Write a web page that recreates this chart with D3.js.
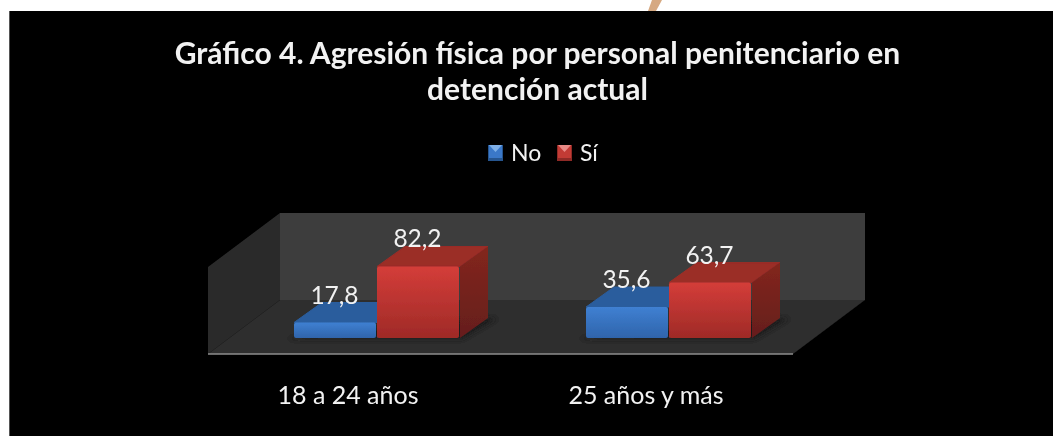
<!DOCTYPE html>
<html>
<head>
<meta charset="utf-8">
<script src="https://cdn.jsdelivr.net/npm/d3@7"></script>
<style>
  html, body { margin: 0; padding: 0; background: #fff; }
  svg { display: block; }
  text { font-family: Lato, "Open Sans", sans-serif; fill: #f2f2f2; }
</style>
</head>
<body>
<script>
var w = 1053;
var h = 436;

var categories = ["18 a 24 años", "25 años y más"];
var seriesNames = ["No", "Sí"];
var noValues = [17.8, 35.6];
var siValues = [82.2, 63.7];
var titleLines = ["Gráfico 4. Agresión física por personal penitenciario en", "detención actual"];

var depthX = 28;
var depthY = -20;
var wallX = 72;
var wallY = -54;

var svg = d3.select("body").append("svg")
    .attr("width", w)
    .attr("height", h);

var defs = svg.append("defs");

function vGrad(id, top, bottom) {
  var g = defs.append("linearGradient").attr("id", id)
      .attr("x1", 0).attr("y1", 0).attr("x2", 0).attr("y2", 1);
  g.append("stop").attr("offset", "0%").attr("stop-color", top);
  g.append("stop").attr("offset", "100%").attr("stop-color", bottom);
}
vGrad("blueFront", "#3f80d2", "#2f64ab");
vGrad("redFront", "#d43d39", "#9f2a27");
vGrad("redSide", "#83261f", "#651e1a");

defs.append("filter").attr("id", "soft")
    .append("feGaussianBlur").attr("stdDeviation", 0.7);
defs.append("filter").attr("id", "shadow")
    .attr("x", "-20%").attr("y", "-50%").attr("width", "140%").attr("height", "200%")
    .append("feGaussianBlur").attr("stdDeviation", 2);

// background panel
svg.append("rect").attr("x", 9).attr("y", 11).attr("width", w - 9).attr("height", h - 11).attr("fill", "#000");
svg.append("rect").attr("x", 9).attr("y", 11).attr("width", 1).attr("height", h - 11).attr("fill", "#555");
svg.append("path").attr("d", "M652,0L662,0L656,11L648,11Z").attr("fill", "#d6a982");

var xFront = d3.scaleBand().domain(categories).range([208, 793]);
var xLabels = d3.scaleBand().domain(categories).range([199, 795]);
var xBars = d3.scaleBand().domain(categories).range([231, 815]);
var xSeries = d3.scaleBand().domain(seriesNames).range([63, 229]);
var y = d3.scaleLinear().domain([0, 100]).range([338, 251]);

var floorY = 354;
var left = xFront.range()[0];
var right = xFront.range()[1];
var wallTop = 213;
var g = svg.append("g").attr("filter", "url(#soft)");

// walls and floor
g.append("path").attr("fill", "#3d3d3d")
    .attr("d", d3.line()([[left + wallX, wallTop], [right + wallX, wallTop], [right + wallX, floorY + wallY], [left + wallX, floorY + wallY]]) + "Z");
g.append("path").attr("fill", "#2a2a2a")
    .attr("d", d3.line()([[left + wallX, wallTop], [left + wallX, floorY + wallY], [left, floorY], [left, wallTop - wallY]]) + "Z");
g.append("path").attr("fill", "#2d2d2d")
    .attr("d", d3.line()([[left + wallX, floorY + wallY], [right + wallX, floorY + wallY], [right, floorY], [left, floorY]]) + "Z");
g.append("line").attr("stroke", "#8e8e8e").attr("stroke-width", 1.5)
    .attr("x1", left).attr("x2", right).attr("y1", floorY).attr("y2", floorY);

var rows = categories.map(function(c, i) {
  return [
    { cat: c, name: seriesNames[0], value: noValues[i], front: "url(#blueFront)", top: "#2b5d9d", side: "#234d83" },
    { cat: c, name: seriesNames[1], value: siValues[i], front: "url(#redFront)", top: "#9b2d28", side: "url(#redSide)" }
  ];
});

// shadow on the floor under each pair
g.selectAll(".shadow").data(rows).enter().append("path")
    .attr("class", "shadow")
    .attr("fill", "#1f1f1f")
    .attr("filter", "url(#shadow)")
    .attr("d", function(r) {
      var x0 = xBars(r[0].cat) + xSeries(seriesNames[0]);
      var x1 = xBars(r[0].cat) + xSeries(seriesNames[1]) + xSeries.bandwidth();
      return d3.line()([[x0 - 5, y(0) + 1], [x1 + 2, y(0) + 1], [x1 + depthX + 8, y(0) + depthY + 1], [x1 + depthX, y(0) + depthY], [x0, y(0)]]) + "Z";
    });

var bars = g.selectAll(".pair").data(rows).enter().append("g").attr("class", "pair")
    .selectAll("g").data(function(r) { return r; }).enter().append("g");

function bx(d) { return xBars(d.cat) + xSeries(d.name); }

// top face
bars.append("path").attr("fill", function(d) { return d.top; })
    .attr("stroke", function(d) { return d.top; }).attr("stroke-linejoin", "round")
    .attr("d", function(d) {
      var x0 = bx(d), x1 = x0 + xSeries.bandwidth(), t = y(d.value);
      return d3.line()([[x0, t], [x0 + depthX, t + depthY], [x1 + depthX, t + depthY], [x1, t]]) + "Z";
    });
// side face
bars.append("path").attr("fill", function(d) { return d.side; })
    .attr("d", function(d) {
      var x1 = bx(d) + xSeries.bandwidth(), t = y(d.value);
      return d3.line()([[x1, t], [x1 + depthX, t + depthY], [x1 + depthX, y(0) + depthY], [x1, y(0)]]) + "Z";
    });
// front face
bars.append("rect")
    .attr("x", bx)
    .attr("y", function(d) { return y(d.value); })
    .attr("width", xSeries.bandwidth() - 1)
    .attr("height", function(d) { return y(0) - y(d.value); })
    .attr("rx", 2)
    .attr("fill", function(d) { return d.front; });

// value labels
bars.append("text")
    .attr("x", function(d) { return bx(d) + xSeries.bandwidth() / 2 - 1; })
    .attr("y", function(d) { return y(d.value) - 19; })
    .attr("text-anchor", "middle")
    .attr("font-size", 24.5)
    .text(function(d) { return String(d.value).replace(".", ","); });

// category labels
g.selectAll(".cat").data(categories).enter().append("text")
    .attr("class", "cat")
    .attr("x", function(d) { return xLabels(d) + xLabels.bandwidth() / 2; })
    .attr("y", 404)
    .attr("text-anchor", "middle")
    .attr("font-size", 25)
    .text(function(d) { return d; });

// title
g.selectAll(".title").data(titleLines).enter().append("text")
    .attr("class", "title")
    .attr("x", 537.5)
    .attr("y", function(d, i) { return 64 + i * 36; })
    .attr("text-anchor", "middle")
    .attr("font-size", 30)
    .attr("font-weight", 700)
    .text(function(d) { return d; });

// legend
var legendColors = ["#3a78c8", "#c23a36"];
var legendTips = ["#7fb0e8", "#e88a86"];
var legendDark = ["#26548f", "#8f2a27"];
var legendX = d3.scaleOrdinal().domain(seriesNames).range([488, 557]);
var legend = g.selectAll(".legend").data(seriesNames).enter().append("g")
    .attr("class", "legend")
    .attr("transform", function(d) { return "translate(" + legendX(d) + ",145)"; });
legend.append("rect").attr("width", 15).attr("height", 16)
    .attr("fill", function(d, i) { return legendDark[i]; });
legend.append("rect").attr("x", 1).attr("width", 13).attr("height", 13)
    .attr("fill", function(d, i) { return legendColors[i]; });
legend.append("path").attr("d", "M1,0L14,0L7.5,7Z")
    .attr("fill", function(d, i) { return legendTips[i]; });
legend.append("text").attr("x", 23).attr("y", 16)
    .attr("font-size", 23)
    .text(function(d) { return d; });
</script>
</body>
</html>
